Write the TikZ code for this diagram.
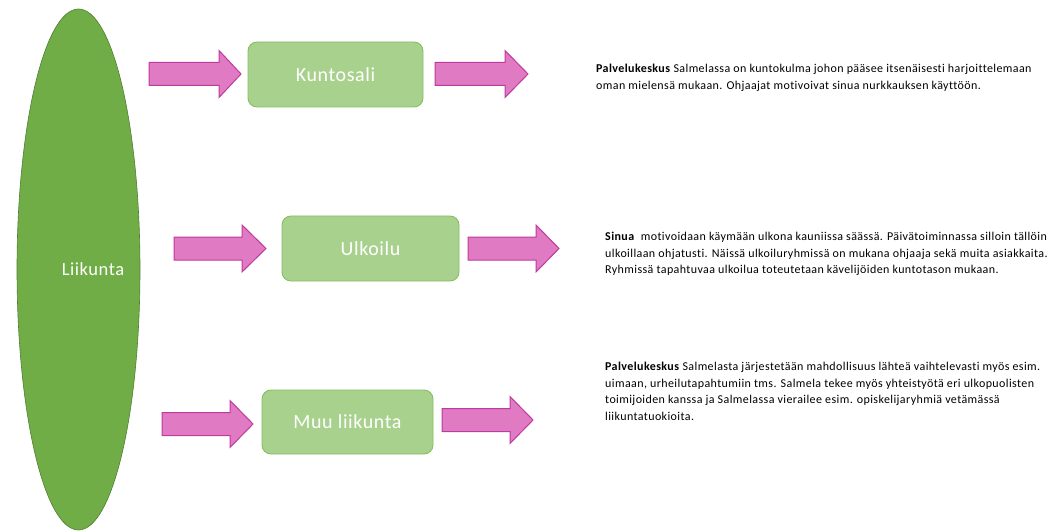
\documentclass[tikz,border=0pt]{standalone}
\usepackage{fontspec}
\setmainfont{Carlito}[Ligatures=NoCommon]
\usetikzlibrary{shapes.geometric}
\definecolor{arrfill}{HTML}{E07AC2}
\definecolor{arrdraw}{HTML}{C0399E}
\definecolor{boxfill}{HTML}{A9D18E}
\definecolor{boxdraw}{HTML}{86BF5E}
\definecolor{ellfill}{HTML}{70AD47}
\definecolor{elldraw}{HTML}{507E32}
\newcommand\myarrow[4]{%
  \draw[barrow] (#1,#4-11.5) -- (#2,#4-11.5) -- (#2,#4-23.5) -- (#3,#4) -- (#2,#4+23.5) -- (#2,#4+11.5) -- (#1,#4+11.5) -- cycle;}
\begin{document}
\begin{tikzpicture}[x=1pt,y=-1pt,
  barrow/.style={fill=arrfill,draw=arrdraw,line width=1pt,line join=miter},
  catbox/.style={rectangle,rounded corners=9pt,fill=boxfill,draw=boxdraw,line width=0.9pt,
    text=white,font=\fontsize{20}{24}\selectfont\addfontfeatures{LetterSpace=3},inner sep=0pt},
  desc/.style={anchor=north west,align=left,inner sep=0pt,
    font=\fontsize{12}{16.5}\selectfont\addfontfeatures{LetterSpace=3.3},text=black}]
\path[use as bounding box] (0,0) rectangle (1061,532);
% central ellipse
\node[ellipse,fill=ellfill,draw=elldraw,line width=0.6pt,minimum width=123pt,minimum height=521pt,inner sep=0pt] (main) at (78.5,269.5) {};
\node[text=white,font=\fontsize{18.5}{22}\selectfont\addfontfeatures{LetterSpace=3}] (mainlabel) at (93,269) {Liikunta};
% category boxes
\node[catbox,minimum width=175pt,minimum height=65pt] (kunto) at (335.5,74.5) {Kuntosali};
\node[catbox,minimum width=177pt,minimum height=65pt] (ulko) at (370.5,248.5) {Ulkoilu};
\node[catbox,minimum width=171pt,minimum height=64pt] (muu) at (347.5,422) {Muu liikunta};
% arrows
\myarrow{149}{219}{241}{74}
\myarrow{435}{505}{528}{74}
\myarrow{174}{242}{266}{248.5}
\myarrow{468}{536}{559}{248.5}
\myarrow{162}{230}{253}{424}
\myarrow{442}{510}{533}{420}
% descriptions
\node[desc] (t1) at (596,64) {\textbf{Palvelukeskus} Salmelassa on kuntokulma johon pääsee itsenäisesti harjoittelemaan\\oman mielensä mukaan. Ohjaajat motivoivat sinua nurkkauksen käyttöön.};
\node[desc] (t2) at (605,232) {\textbf{Sinua}\ \ motivoidaan käymään ulkona kauniissa säässä. Päivätoiminnassa silloin tällöin\\ulkoillaan ohjatusti. Näissä ulkoiluryhmissä on mukana ohjaaja sekä muita asiakkaita.\\Ryhmissä tapahtuvaa ulkoilua toteutetaan kävelijöiden kuntotason mukaan.};
\node[desc] (t3) at (605,362) {\textbf{Palvelukeskus} Salmelasta järjestetään mahdollisuus lähteä vaihtelevasti myös esim.\\uimaan, urheilutapahtumiin tms. Salmela tekee myös yhteistyötä eri ulkopuolisten\\toimijoiden kanssa ja Salmelassa vierailee esim. opiskelijaryhmiä vetämässä\\liikuntatuokioita.};
\end{tikzpicture}
\end{document}
